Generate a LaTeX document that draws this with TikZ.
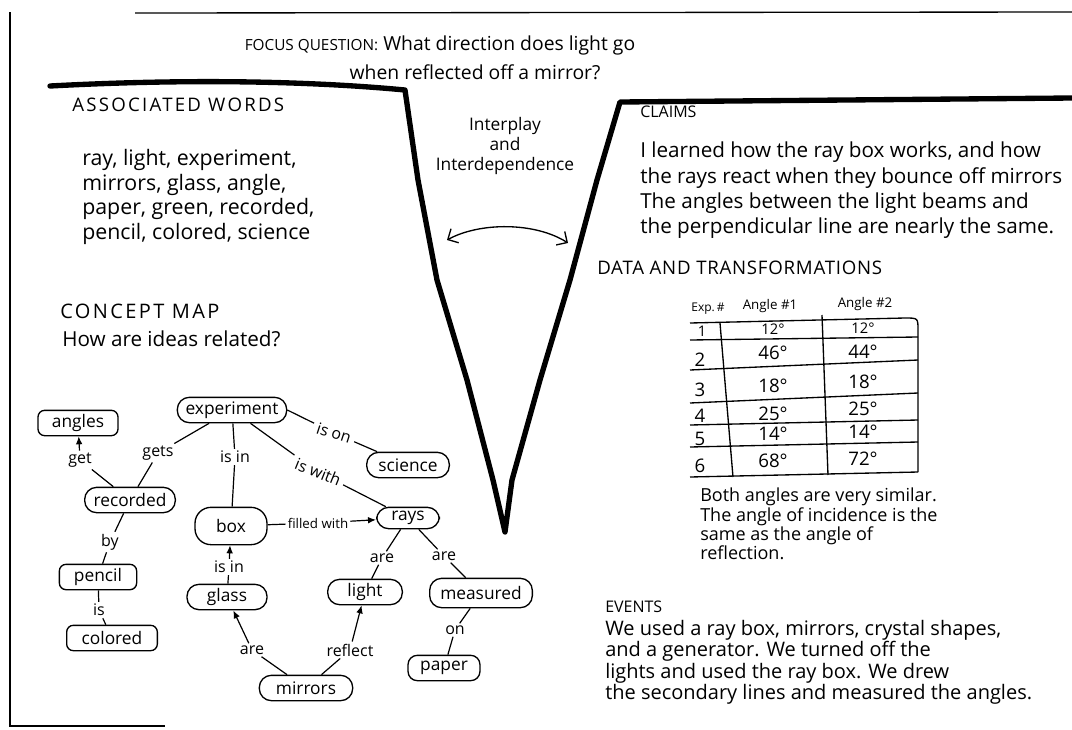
\documentclass[tikz,border=0pt]{standalone}
\usepackage{fontspec}
\setmainfont{Open Sans}
\usetikzlibrary{positioning, arrows.meta}

\tikzset{
    concept/.style={draw, line width=1pt, rounded corners=5pt, minimum height=19pt,
        inner xsep=4pt, inner ysep=2pt, font=\fontsize{13}{15}\selectfont},
    pill/.style={concept, rounded corners=9pt},
    link/.style={inner sep=1.5pt, font=\fontsize{12}{14}\selectfont},
    heading/.style={anchor=west, inner sep=0pt, font=\fontsize{12}{14}\selectfont},
    para/.style={anchor=north west, align=left, inner sep=0pt},
    cell/.style={inner sep=0pt, font=\fontsize{14}{16}\selectfont},
    frame/.style={line width=1pt},
    vline/.style={line width=4pt, line join=round, line cap=round},
    gridline/.style={line width=1pt},
    arr/.style={-{Latex[length=6pt, width=5pt]}},
}

\begin{document}
\begin{tikzpicture}[x=0.75pt, y=-0.75pt]
    \useasboundingbox (0,0) rectangle (1072,729);

    % frame and funnel
    \draw[frame] (135,13) -- (1072,12);
    \draw[frame] (10,12) -- (10,726) -- (165,726);
    \draw[vline] (50,86) .. controls (200,78) and (320,82) .. (405,90)
        -- (418,180) -- (437,280) -- (467,380) -- (493,480) -- (505,532)
        -- (512,480) -- (540,380) -- (570,280) -- (597,180) -- (620,102) -- (1072,98);

    % focus question
    \node[font=\fontsize{14.5}{16}\selectfont] (focus) at (440,45)
        {{\fontsize{11.5}{13}\selectfont FOCUS QUESTION:} What direction does light go};
    \node[font=\fontsize{14.5}{16}\selectfont] (focus2) at (475,72) {when reflected off a mirror?};

    % interplay
    \node[font=\fontsize{13}{19}\selectfont, align=center, inner sep=0pt] (play) at (505,146)
        {Interplay\\[-4pt] and\\[-4pt] Interdependence};
    \coordinate (playL) at (447,240);
    \coordinate (playR) at (568,243);
    \draw[line width=1pt, {Straight Barb[length=6pt]}-{Straight Barb[length=6pt]}]
        (playL) .. controls (480,222) and (535,222) .. (playR);

    % associated words
    \node[heading, font=\fontsize{14}{16}\selectfont\addfontfeature{LetterSpace=12}] (assoc) at (72,105)
        {ASSOCIATED WORDS};
    \node[para, font=\fontsize{16}{18.4}\selectfont] (words) at (82,149)
        {ray, light, experiment,\\ mirrors, glass, angle,\\ paper, green, recorded,\\ pencil, colored, science};

    % claims
    \node[heading] (claims) at (640,112) {CLAIMS};
    \node[para, font=\fontsize{15.5}{19}\selectfont] (claimtext) at (640,142)
        {I learned how the ray box works, and how\\ the rays react when they bounce off mirrors\\
         The angles between the light beams and\\ the perpendicular line are nearly the same.};

    % data and transformations
    \node[heading, font=\fontsize{14}{16}\selectfont\addfontfeature{LetterSpace=4}] (data) at (597,268)
        {DATA AND TRANSFORMATIONS};
    \draw[gridline] (690,323) -- (905,318) .. controls (918,318) .. (918,330) -- (918,472);
    \draw[gridline] (690,340) -- (918,337);
    \draw[gridline] (690,370) -- (918,360);
    \draw[gridline] (690,403) -- (918,393);
    \draw[gridline] (690,425) -- (918,420);
    \draw[gridline] (690,447) -- (918,442);
    \draw[gridline] (690,477) -- (918,472);
    \draw[gridline] (720,323) -- (733,477);
    \draw[gridline] (822,315) -- (828,475);
    \node[cell, font=\fontsize{9}{11}\selectfont] (hexp) at (708,309) {Exp.\,\#};
    \node[cell, font=\fontsize{10}{12}\selectfont] (hone) at (770,306) {Angle \#1};
    \node[cell, font=\fontsize{10}{12}\selectfont] (htwo) at (865,304) {Angle \#2};
    \node[cell, font=\fontsize{11}{13}\selectfont] (r1) at (702,331) {1};
    \node[cell, font=\fontsize{11}{13}\selectfont] (a1) at (773,329) {12°};
    \node[cell, font=\fontsize{11}{13}\selectfont] (b1) at (863,328) {12°};
    \node[cell] (r2) at (700,360) {2};
    \node[cell] (a2) at (773,353) {46°};
    \node[cell] (b2) at (863,352) {44°};
    \node[cell] (r3) at (700,390) {3};
    \node[cell] (a3) at (773,386) {18°};
    \node[cell] (b3) at (863,382) {18°};
    \node[cell] (r4) at (700,416) {4};
    \node[cell] (a4) at (773,414) {25°};
    \node[cell] (b4) at (863,409) {25°};
    \node[cell] (r5) at (700,439) {5};
    \node[cell] (a5) at (773,434) {14°};
    \node[cell] (b5) at (863,432) {14°};
    \node[cell] (r6) at (700,466) {6};
    \node[cell] (a6) at (773,461) {68°};
    \node[cell] (b6) at (863,459) {72°};
    \node[para, font=\fontsize{13.5}{14.5}\selectfont] (note) at (700,488)
        {Both angles are very similar.\\ The angle of incidence is the\\ same as the angle of\\ reflection.};

    % events
    \node[heading] (events) at (605,607) {EVENTS};
    \node[para, font=\fontsize{15}{16}\selectfont] (eventtext) at (605,620)
        {We used a ray box, mirrors, crystal shapes,\\ and a generator. We turned off the\\
         lights and used the ray box. We drew\\ the secondary lines and measured the angles.};

    % concept map
    \node[heading, font=\fontsize{15}{17}\selectfont\addfontfeature{LetterSpace=12}] (cmap) at (60,311)
        {CONCEPT MAP};
    \node[heading, font=\fontsize{15.5}{17}\selectfont] (ideas) at (62,339) {How are ideas related?};

    \node[pill, minimum width=82pt] (experiment) at (232,410) {experiment};
    \node[concept, minimum width=60pt] (angles) at (78,423) {angles};
    \node[pill, minimum width=62pt] (science) at (408,465) {science};
    \node[pill, minimum width=68pt] (recorded) at (130,500) {recorded};
    \node[concept, rounded corners=12pt, minimum width=54pt, minimum height=28pt] (box) at (231,526) {box};
    \node[pill, minimum width=47pt, minimum height=16pt] (rays) at (408,518) {rays};
    \node[concept, minimum width=58pt] (pencil) at (98,577) {pencil};
    \node[pill, minimum width=60pt] (glass) at (227,597) {glass};
    \node[pill, minimum width=56pt] (light) at (365,592) {light};
    \node[pill, minimum width=77pt, minimum height=22pt] (measured) at (481,593) {measured};
    \node[concept, minimum width=68pt] (colored) at (112,638) {colored};
    \node[concept, rounded corners=7pt, minimum width=54pt] (paper) at (444,668) {paper};
    \node[pill, minimum width=70pt] (mirrors) at (306,688) {mirrors};

    \node[link] (get) at (80,460) {get};
    \node[link] (gets) at (158,453) {gets};
    \node[link] (isin) at (235,457) {is in};
    \node[link, rotate=-18, inner sep=3pt] (ison) at (334,433) {is on};
    \node[link, rotate=-22, inner sep=3pt] (iswith) at (318,472) {is with};
    \node[link, font=\fontsize{10}{12}\selectfont] (filled) at (318,523) {filled with};
    \node[link] (by) at (110,542) {by};
    \node[link] (is) at (99,610) {is};
    \node[link] (isin2) at (229,567) {is in};
    \node[link] (are1) at (252,650) {are};
    \node[link] (reflect) at (350,650) {reflect};
    \node[link] (are2) at (382,558) {are};
    \node[link] (are3) at (444,556) {are};
    \node[link] (on) at (455,630) {on};

    \draw[line width=0.9pt]
    (get) edge[arr] (angles)
    (get) edge (recorded)
    (experiment) edge (gets)
    (gets) edge (recorded)
    (experiment) edge (isin)
    (isin) edge (box)
    (experiment.east) edge (ison)
    (ison) edge (science)
    (experiment) edge (iswith)
    (iswith) edge (rays)
    (box) edge (filled)
    (filled) edge[arr] (rays)
    (recorded) edge (by)
    (by) edge (pencil)
    (pencil) edge (is)
    (is) edge (colored)
    (isin2) edge[arr] (box)
    (isin2) edge (glass)
    (mirrors) edge (are1)
    (are1) edge[arr] (glass)
    (mirrors) edge (reflect)
    (reflect) edge[arr] (light)
    (rays) edge (are2)
    (are2) edge (light)
    (rays) edge (are3)
    (are3) edge (measured)
    (measured) edge (on)
    (on) edge (paper);
\end{tikzpicture}
\end{document}
